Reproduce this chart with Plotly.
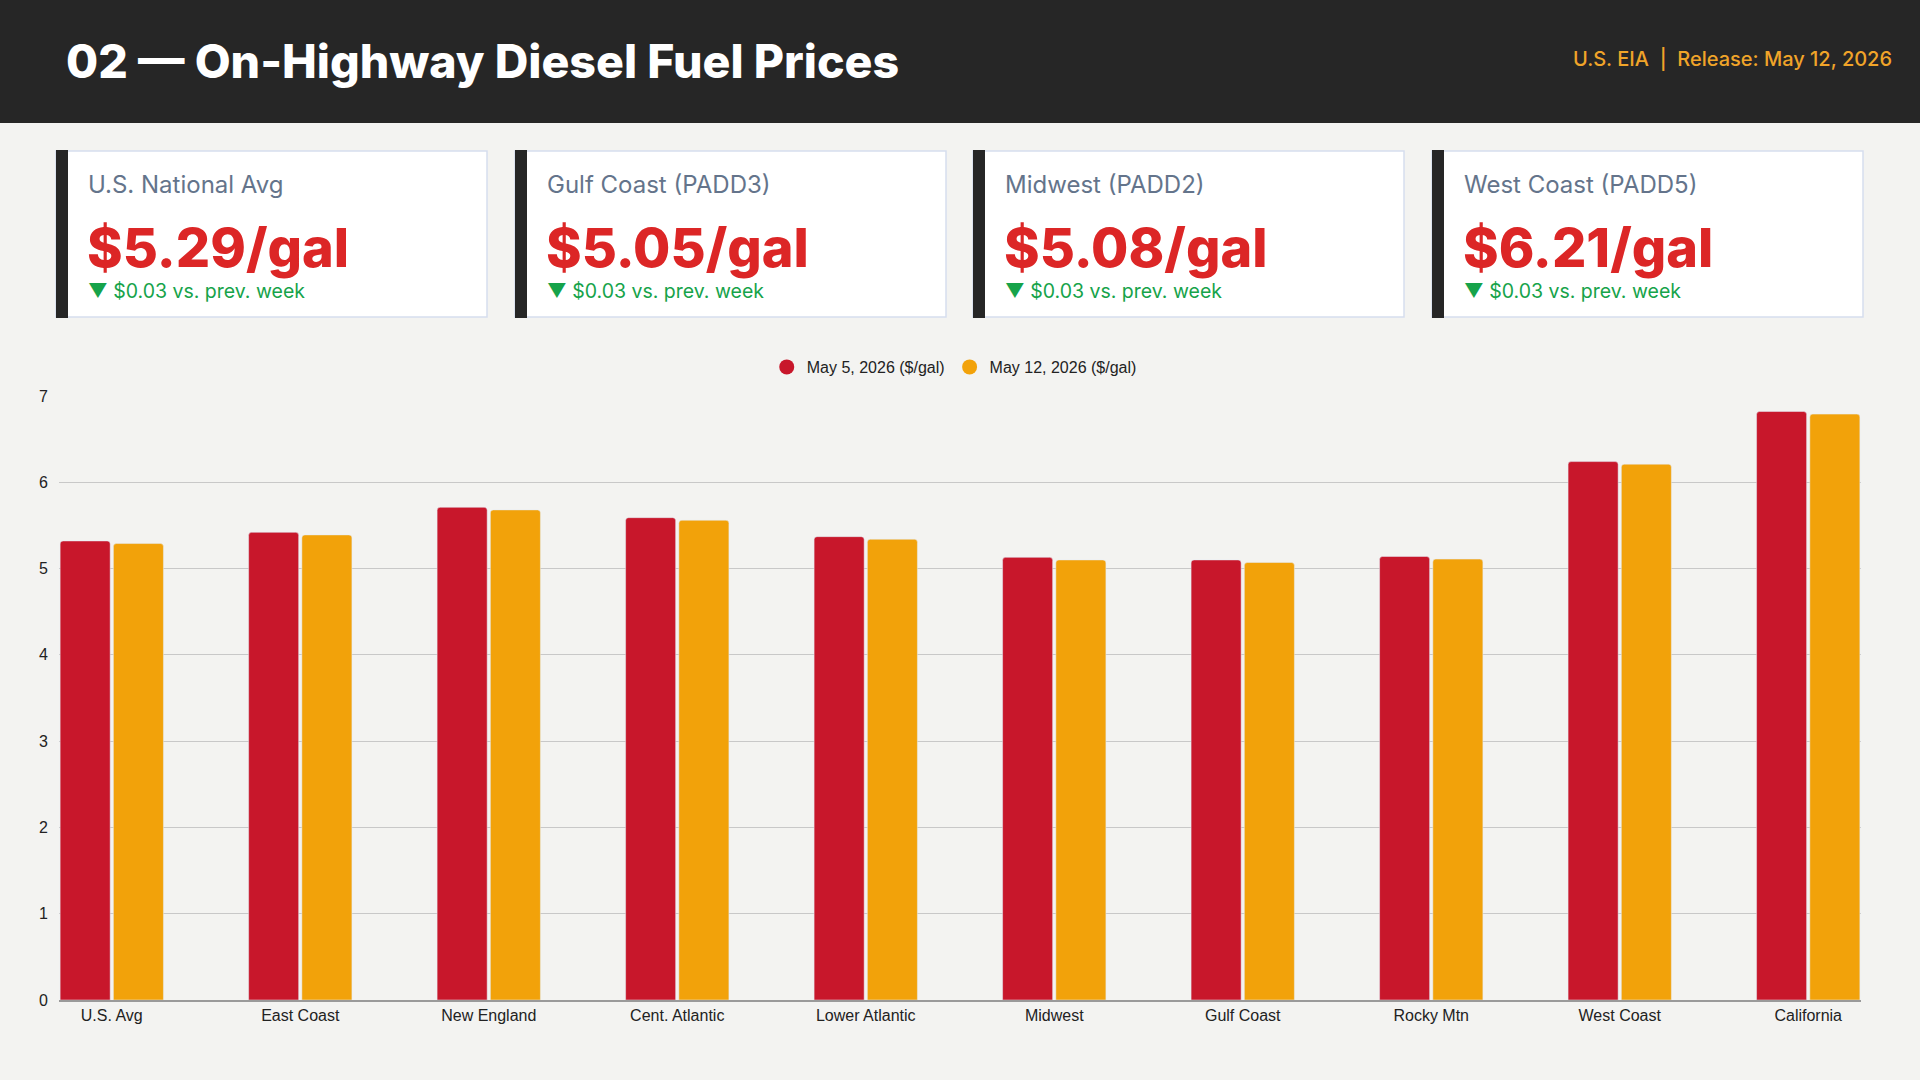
import plotly.graph_objects as go

# weekly on-highway diesel retail prices, $/gal
regions = ['U.S. Avg', 'East Coast', 'New England', 'Cent. Atlantic', 'Lower Atlantic',
           'Midwest', 'Gulf Coast', 'Rocky Mtn', 'West Coast', 'California']
may5 = [5.32, 5.42, 5.71, 5.59, 5.37, 5.13, 5.10, 5.14, 6.24, 6.82]
may12 = [5.29, 5.39, 5.68, 5.56, 5.34, 5.10, 5.07, 5.11, 6.21, 6.79]
series_names = ['May 5, 2026 ($/gal)', 'May 12, 2026 ($/gal)']

# KPI cards
card_labels = ['U.S. National Avg', 'Gulf Coast (PADD3)', 'Midwest (PADD2)', 'West Coast (PADD5)']
card_values = ['$5.29/gal', '$5.05/gal', '$5.08/gal', '$6.21/gal']
card_deltas = ['▼ $0.03 vs. prev. week'] * 4

W, H = 1920, 1080
RED = '#C8172B'
ORANGE = '#F2A20A'
DARK = '#262626'
BG = '#F3F3F1'


def px(x):
    return x / W


def py(y):
    return 1 - y / H


fig = go.Figure()

fig.add_trace(go.Bar(x=regions, y=may5, name=series_names[0], marker=dict(color=RED, cornerradius=3),
                     showlegend=False))
fig.add_trace(go.Bar(x=regions, y=may12, name=series_names[1], marker=dict(color=ORANGE, cornerradius=3),
                     showlegend=False))
# legend entries with round markers
for nm, col in zip(series_names, [RED, ORANGE]):
    fig.add_trace(go.Scatter(x=[None], y=[None], mode='markers', name=nm,
                             marker=dict(color=col, size=15, symbol='circle')))

shapes = []
annotations = []

# header band
shapes.append(dict(type='rect', xref='paper', yref='paper', x0=0, x1=1, y0=py(123), y1=1,
                   fillcolor=DARK, line=dict(width=0), layer='below'))
annotations.append(dict(text='02 — On-Highway Diesel Fuel Prices', xref='paper', yref='paper',
                        x=px(64), y=py(61), xanchor='left', yanchor='middle', showarrow=False,
                        font=dict(family='Inter', size=46.5, color='white', weight=800)))
annotations.append(dict(text='U.S. EIA  |  Release: May 12, 2026', xref='paper', yref='paper',
                        x=px(1894), y=py(59), xanchor='right', yanchor='middle', showarrow=False,
                        font=dict(family='Inter', size=20, color='#F0A429', weight=500)))

# cards
card_left = [56, 515, 973, 1432]
card_w = 431
top, bot = 151, 317
for i in range(4):
    x0 = card_left[i]
    shapes.append(dict(type='rect', xref='paper', yref='paper', x0=px(x0), x1=px(x0 + card_w),
                       y0=py(bot), y1=py(top), fillcolor='white', line=dict(color='#D6DEEE', width=1.5),
                       layer='below'))
    shapes.append(dict(type='rect', xref='paper', yref='paper', x0=px(x0), x1=px(x0 + 12),
                       y0=py(bot + 1), y1=py(top - 1), fillcolor=DARK, line=dict(width=0), layer='below'))
    annotations.append(dict(text=card_labels[i], xref='paper', yref='paper', x=px(x0 + 30), y=py(184),
                            xanchor='left', yanchor='middle', showarrow=False,
                            font=dict(family='Inter', size=24, color='#64748B')))
    annotations.append(dict(text=card_values[i], xref='paper', yref='paper', x=px(x0 + 29), y=py(247),
                            xanchor='left', yanchor='middle', showarrow=False,
                            font=dict(family='Inter', size=54, color='#DC2626', weight=800)))
    annotations.append(dict(text=card_deltas[i], xref='paper', yref='paper', x=px(x0 + 30), y=py(291),
                            xanchor='left', yanchor='middle', showarrow=False,
                            font=dict(family='Inter', size=19.5, color='#16A34A')))

fig.update_layout(
    width=W, height=H,
    margin=dict(l=0, r=0, t=0, b=0),
    paper_bgcolor=BG, plot_bgcolor=BG,
    barmode='group', bargap=0.435, bargroupgap=0.06,
    shapes=shapes, annotations=annotations,
    font=dict(family='Liberation Sans, Arial', size=16, color='#222222'),
    legend=dict(orientation='h', x=0.497, xanchor='center', y=py(367), yanchor='middle',
                font=dict(size=16, color='#222222'), bgcolor='rgba(0,0,0,0)'),
    xaxis=dict(domain=[px(59), px(1861)], range=[-0.28, 9.28], showgrid=False,
               showline=True, linecolor='#9A9A9A', linewidth=1.5, ticks='', automargin=False,
               tickfont=dict(size=16, color='#222222'), fixedrange=True),
    yaxis=dict(domain=[py(1000), py(396)], range=[0, 7], dtick=1, showgrid=True,
               gridcolor='#C8C8C8', gridwidth=1, zeroline=False, automargin=False,
               ticklabelstandoff=10, tickfont=dict(size=16, color='#222222'), fixedrange=True),
)

fig.write_html('out.html', config={'displayModeBar': False},
               post_script="document.body.style.margin='0';")
